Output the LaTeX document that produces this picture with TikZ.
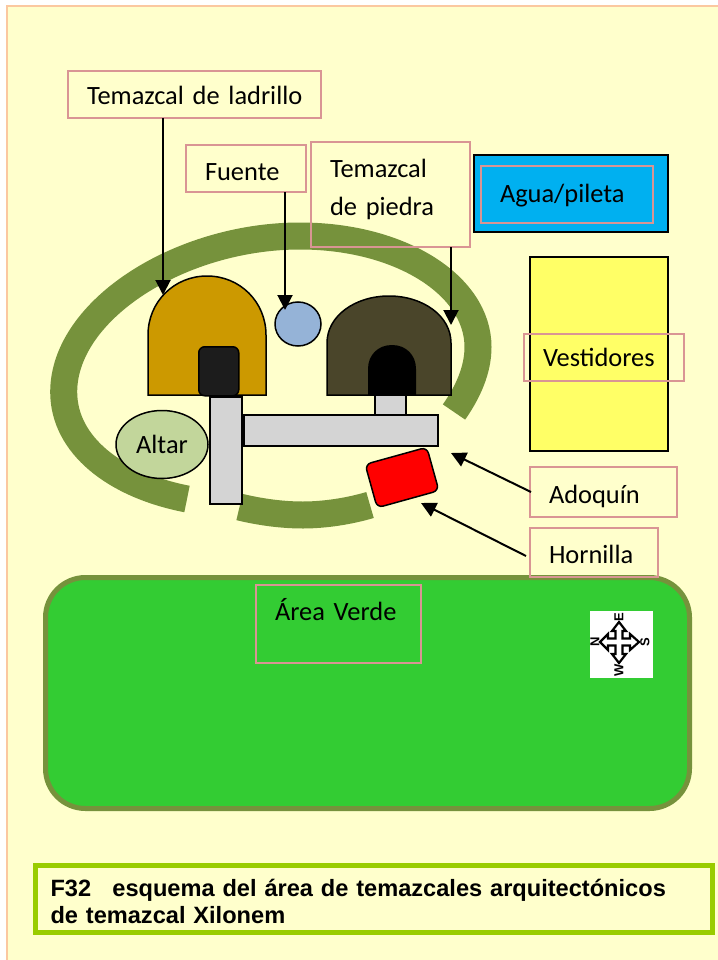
\documentclass[tikz,border=0pt]{standalone}
\usepackage{fontspec}
\setmainfont{Carlito}
\newfontfamily\capfont{Liberation Sans}
\usetikzlibrary{arrows.meta,shapes.geometric}
\definecolor{paper}{HTML}{FFFFCC}
\definecolor{pageline}{HTML}{FBC8A0}
\definecolor{ringgreen}{HTML}{76923C}
\definecolor{labelline}{HTML}{D99594}
\definecolor{lawn}{HTML}{33CC33}
\definecolor{capline}{HTML}{99CC00}
\definecolor{greyfill}{HTML}{D4D4D4}
\tikzset{
  lbl/.style={draw=labelline,line width=1.6pt,anchor=north west,inner ysep=0pt,inner xsep=19pt,outer sep=0pt,align=left,
     font=\fontsize{26.4}{38}\selectfont,text=black},
  solid block/.style={draw=black,line width=1.5pt,anchor=north west,inner sep=0pt,outer sep=0pt},
  ring/.style={draw=ringgreen,line width=27pt,line cap=butt},
  pointer/.style={draw=black,line width=2pt,-{Triangle[length=15pt,width=15pt]}},
  outline/.style={draw=black,line width=1.5pt},
  cross/.style={draw=black,line width=2.2pt,fill=white,line join=miter},
  compass letter/.style={font=\capfont\bfseries\fontsize{13}{13}\selectfont,inner sep=0pt,rotate=90}
}
\begin{document}
\begin{tikzpicture}[x=1pt,y=-1pt]
\useasboundingbox (0,0) rectangle (717,960);
% page
\fill[white] (0,0) rectangle (717,960);
\draw[pageline,line width=2pt,fill=paper] (7,6.5) rectangle (730,975);
% ring
\draw[ring] (187,499) .. controls (115,485) and (63.7,445) .. (63.7,392)
  .. controls (63.7,310) and (180,236) .. (300,236)
  .. controls (400,236) and (478,285) .. (478,347)
  .. controls (478,370) and (468,392) .. (454,412);
\draw[ring] (239.5,507) .. controls (260,512) and (282,515) .. (303,515)
  .. controls (325,515) and (350,511) .. (370,505);
% colour blocks
\node[solid block,fill={rgb,255:red,0;green,176;blue,240},minimum width=194pt,minimum height=77pt] (pool) at (474,155) {};
\node[solid block,fill={rgb,255:red,255;green,255;blue,102},minimum width=138pt,minimum height=194pt] (rooms) at (530,257) {};
% temazcal de ladrillo
\draw[outline,fill={rgb,255:red,204;green,153;blue,0}] (148,395) -- (148,335) .. controls (148,302) and (174,276) .. (207,276) .. controls (240,276) and (266,302) .. (266,335) -- (266,395) -- cycle;
\node[draw=black,line width=1.5pt,fill={rgb,255:red,28;green,28;blue,28},rounded corners=6pt,minimum width=40pt,minimum height=49pt,inner sep=0pt,anchor=north west] (brickdoor) at (198,346) {};
% fuente
\node[draw=black,line width=1.5pt,fill={rgb,255:red,149;green,179;blue,215},ellipse,minimum width=46pt,minimum height=44pt,inner sep=0pt] (well) at (298,324) {};
% temazcal de piedra
\draw[outline,fill={rgb,255:red,74;green,69;blue,42}] (327,395) -- (327,343) .. controls (327,316) and (355,296) .. (389,296) .. controls (423,296) and (451,316) .. (451,343) -- (451,395) -- cycle;
\fill[black] (368,395) -- (368,369) .. controls (368,355) and (378,345) .. (392,345) .. controls (406,345) and (416,355) .. (416,369) -- (416,395) -- cycle;
% paths
\node[solid block,fill=greyfill,minimum width=31pt,minimum height=21pt] (step) at (375,395) {};
\node[solid block,fill=greyfill,minimum width=194pt,minimum height=31pt] (path) at (244,415) {};
\node[solid block,fill=greyfill,minimum width=32pt,minimum height=107pt] (walk) at (210,397) {};
\node[draw=black,line width=1.5pt,fill={rgb,255:red,194;green,214;blue,155},ellipse,minimum width=92pt,minimum height=68pt,inner sep=0pt,font=\fontsize{26.4}{30}\selectfont] (altar) at (162,444.5) {Altar};
\node[draw=black,line width=1.5pt,fill=red,rounded corners=6pt,minimum width=64pt,minimum height=45pt,inner sep=0pt,rotate=15.5] (stove) at (402,477.5) {};
% lawn
\fill[lawn,draw=ringgreen,line width=5pt,rounded corners=40pt] (45.5,577.5) rectangle (689.5,808.5);
% compass
\fill[white] (590,611) rectangle (653,678);
\coordinate (c) at (619,642);
\draw[cross] (619,622) -- (626,631) -- (622.5,631) -- (622.5,638.5) -- (630,638.5) -- (630,634) -- (639,642)
  -- (630,650) -- (630,645.5) -- (622.5,645.5) -- (622.5,654) -- (626,654) -- (619,663) -- (612,654) -- (615.5,654)
  -- (615.5,645.5) -- (608,645.5) -- (608,650) -- (600,642) -- (608,634) -- (608,638.5) -- (615.5,638.5) -- (615.5,631) -- (612,631) -- cycle;
\node[compass letter] (north) at (595,642) {N};
\node[compass letter] (east) at (619,617) {E};
\node[compass letter] (south) at (645,642) {S};
\node[compass letter] (west) at (619,670) {W};
% labels
\node[lbl,text width=215pt,text height=34pt,text depth=13pt] (lad) at (68,71) {\mbox{Temazcal de ladrillo}};
\node[lbl,text width=82pt,text height=36pt,text depth=11pt] (fue) at (186,145) {Fuente};
\node[lbl,text width=121pt,text height=36pt,text depth=69pt] (pie) at (311,142) {Temazcal\\de piedra};
\node[lbl,text width=134pt,text height=36pt,text depth=21pt] (agu) at (481,166) {Agua/pileta};
\node[lbl,text width=122pt,text height=32pt,text depth=15pt] (ves) at (524,334) {Vestidores};
\node[lbl,text width=109pt,text height=36pt,text depth=14pt] (ado) at (530,467) {Adoquín};
\begin{scope}
\clip (0,0) rectangle (717,577);
\node[lbl,text width=90pt,text height=35pt,text depth=14pt] (hor) at (530,528) {Hornilla};
\end{scope}
\node[lbl,text width=127pt,text height=35pt,text depth=43pt] (are) at (256,585) {Área Verde};
% arrows
\coordinate (ladtip) at (163,295);
\coordinate (fuetip) at (285,310);
\coordinate (pietip) at (451,325);
\coordinate (adotip) at (451,453);
\coordinate (hortip) at (421,503);
\coordinate (adofrom) at (531,492);
\coordinate (horfrom) at (526,556);
\draw[pointer] (lad.south -| ladtip) -- (ladtip);
\draw[pointer] (fue.south -| fuetip) -- (fuetip);
\draw[pointer] (pie.south -| pietip) -- (pietip);
\draw[pointer] (adofrom) -- (adotip);
\draw[pointer] (horfrom) -- (hortip);
% caption
\node[draw=capline,line width=4.5pt,fill=paper,anchor=north west,inner ysep=0pt,inner xsep=15pt,outer sep=0pt,align=left,text width=647pt,text height=31pt,text depth=36pt,font=\capfont\bfseries\fontsize{23.6}{27}\selectfont] (cap) at (35.5,865.5) {F32\hspace{0.9em}esquema del área de temazcales arquitectónicos\\de temazcal Xilonem};
\end{tikzpicture}
\end{document}
